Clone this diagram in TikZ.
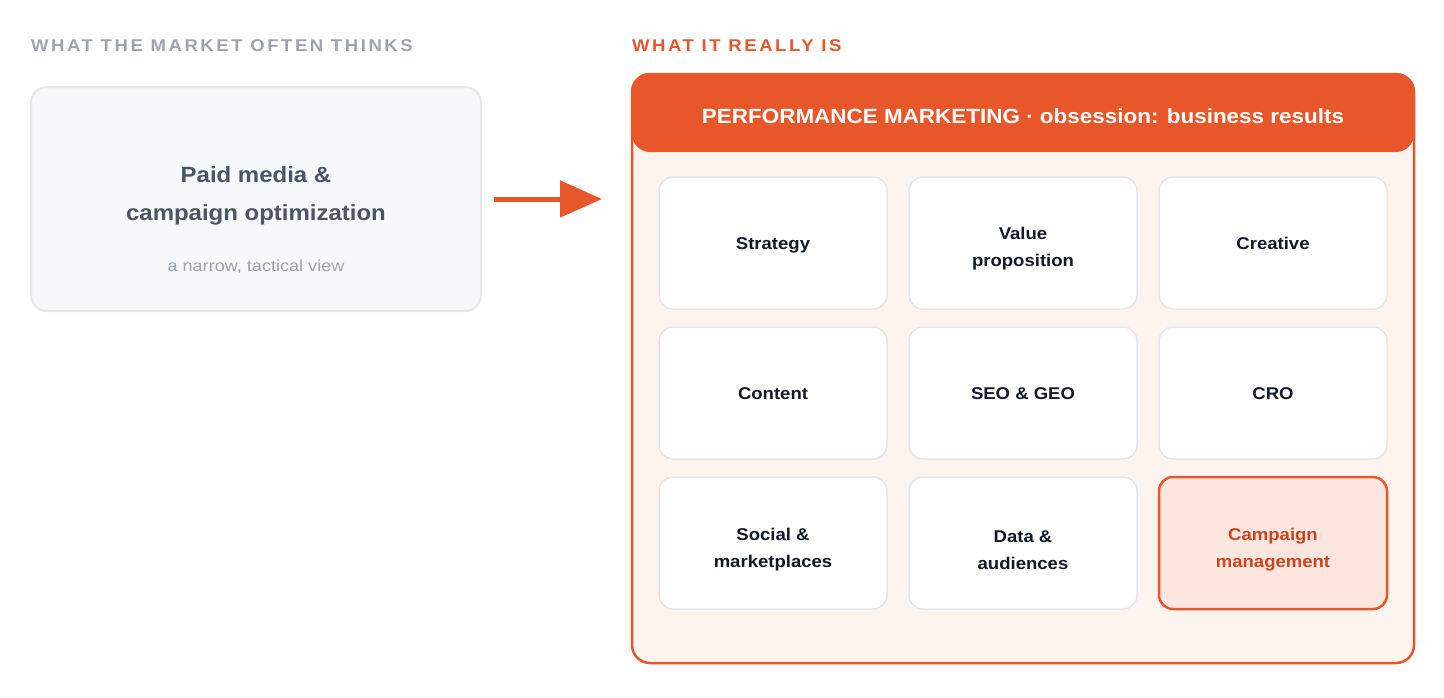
\documentclass[tikz,border=0pt]{standalone}
\usepackage{fontspec}
\setmainfont[FakeStretch=1.09]{Liberation Sans}
\newfontfamily\spacedfont[FakeStretch=1.09,LetterSpace=15]{Liberation Sans}
\newfontfamily\widefont[FakeStretch=1.13]{Liberation Sans}
\usetikzlibrary{arrows.meta,positioning}
\definecolor{orangeM}{HTML}{E8572A}
\definecolor{orangeT}{HTML}{C8461C}
\definecolor{lgray}{HTML}{9CA3AF}
\definecolor{dgray}{HTML}{4B5563}
\definecolor{bordergray}{HTML}{E5E7EB}
\definecolor{boxfill}{HTML}{F7F8FA}
\definecolor{bigfill}{HTML}{FDF3EF}
\definecolor{hifill}{HTML}{FCE6DF}
\definecolor{ink}{HTML}{111827}
\tikzset{
  x=1pt,y=1pt,
  caption/.style={anchor=west,inner sep=0pt,font=\fontsize{17}{20}\selectfont\spacedfont\bfseries},
  cell/.style={draw=bordergray,line width=1.5pt,fill=white,rounded corners=14pt,
    minimum width=228pt,minimum height=132pt,inner sep=0pt},
  hicell/.style={cell,draw=orangeM,line width=2.5pt,fill=hifill},
  celltext/.style={inner sep=0pt,align=center,text=ink,font=\fontsize{17}{27}\selectfont\bfseries},
  onetext/.style={celltext,text height=12.2pt,text depth=3.6pt},
  hitext/.style={celltext,text=orangeT},
}
\begin{document}
\begin{tikzpicture}
\useasboundingbox (0,0) rectangle (1444,-697);
% captions
\node[caption,text=lgray] (capL) at (31,-46) {WHAT THE MARKET OFTEN THINKS};
\node[caption,text=orangeM] (capR) at (632,-46) {WHAT IT REALLY IS};
% left box
\node[draw=bordergray,line width=2pt,fill=boxfill,rounded corners=16pt,
  minimum width=450pt,minimum height=224pt,inner sep=0pt] (left) at (256,-199) {};
\node[align=center,text=dgray,font=\fontsize{22}{38}\selectfont\bfseries,inner sep=0pt]
  (lefttitle) at (256,-196) {Paid media \&\\campaign optimization};
\node[text=lgray,font=\fontsize{16}{19}\selectfont\widefont,inner sep=0pt]
  (leftsub) at (256,-267) {a narrow, tactical view};
% big box
\node[draw=orangeM,line width=2.5pt,fill=bigfill,rounded corners=18pt,
  minimum width=782pt,minimum height=589pt,inner sep=0pt] (big) at (1023,-368.5) {};
\node[fill=orangeM,rounded corners=18pt,minimum width=782pt,minimum height=78pt,inner sep=0pt] (header) at (1023,-113) {};
\node[inner sep=0pt,text=white,font=\fontsize{20.6}{24}\selectfont\bfseries] (headtext)
  at ([yshift=-3]header.center) {PERFORMANCE MARKETING · obsession: business results};
% arrow
\coordinate (arrS) at (494,-199);
\coordinate (arrE) at (602,-199);
\draw[orangeM,line width=5pt,-{Triangle[length=42pt,width=36pt]}] (arrS) -- (arrE);
% cells
\node[cell] (c11) at (773,-243) {};
\node[cell] (c12) at (1023,-243) {};
\node[cell] (c13) at (1273,-243) {};
\node[cell] (c21) at (773,-393) {};
\node[cell] (c22) at (1023,-393) {};
\node[cell] (c23) at (1273,-393) {};
\node[cell] (c31) at (773,-543) {};
\node[cell] (c32) at (1023,-543) {};
\node[hicell] (c33) at (1273,-543) {};
\node[onetext] (t11) at ([yshift=-1.8]c11.center) {Strategy};
\node[celltext] (t12) at ([yshift=-6]c12.center) {Value\\proposition};
\node[onetext] (t13) at ([yshift=-1.8]c13.center) {Creative};
\node[onetext] (t21) at ([yshift=-1.8]c21.center) {Content};
\node[onetext] (t22) at ([yshift=-1.8]c22.center) {SEO \& GEO};
\node[onetext] (t23) at ([yshift=-1.8]c23.center) {CRO};
\node[celltext] (t31) at ([yshift=-7]c31.center) {Social \&\\marketplaces};
\node[celltext] (t32) at ([yshift=-7]c32.center) {Data \&\\audiences};
\node[hitext] (t33) at ([yshift=-7]c33.center) {Campaign\\management};
\end{tikzpicture}
\end{document}
